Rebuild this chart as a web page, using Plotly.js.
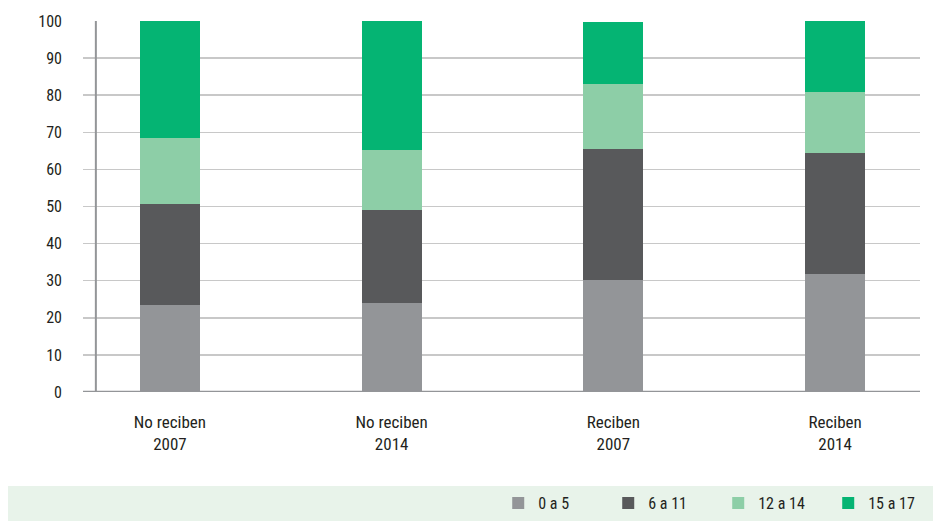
<!DOCTYPE html>
<html>
<head>
<meta charset="utf-8">
<script src="https://cdn.plot.ly/plotly-3.0.1.min.js"></script>
<style>
html,body{margin:0;padding:0;background:#fff;}
#chart{width:933px;height:522px;}
</style>
</head>
<body>
<div id="chart"></div>
<script>
const categories = ["No reciben<br>2007", "No reciben<br>2014", "Reciben<br>2007", "Reciben<br>2014"];
const seriesNames = ["0 a 5", "6 a 11", "12 a 14", "15 a 17"];
const age0to5 = [23.4, 24.0, 30.2, 31.8];
const age6to11 = [27.3, 25.1, 35.3, 32.6];
const age12to14 = [17.8, 16.1, 17.5, 16.5];
const age15to17 = [31.5, 34.8, 16.7, 19.1];
const yTicks = [0, 10, 20, 30, 40, 50, 60, 70, 80, 90, 100];

const colors = ["#939598", "#58595b", "#8dcea7", "#05b473"];
const values = [age0to5, age6to11, age12to14, age15to17];
const xIdx = categories.map((c, i) => i);

const FONT = "'Roboto Condensed', 'Liberation Sans Narrow', 'DejaVu Sans Condensed', 'Arial Narrow', sans-serif";

const traces = values.map((v, k) => ({
  type: "bar",
  name: seriesNames[k],
  x: xIdx,
  y: v,
  width: 0.271,
  marker: {color: colors[k], line: {width: 0}},
  hoverinfo: "y+name"
}));

const layout = {
  width: 933,
  height: 522,
  barmode: "stack",
  paper_bgcolor: "#ffffff",
  plot_bgcolor: "#ffffff",
  margin: {l: 83, r: 13, t: 21, b: 130},
  font: {family: FONT, size: 16, color: "#231f20"},
  xaxis: {
    range: [-0.392, 3.383],
    tickvals: xIdx,
    ticktext: categories,
    showgrid: false,
    zeroline: false,
    showline: false,
    ticks: "",
    ticklabelstandoff: 18,
    automargin: false,
    tickfont: {family: FONT, size: 17, color: "#231f20"},
    fixedrange: true
  },
  yaxis: {
    range: [0, 100],
    tickvals: yTicks,
    showgrid: true,
    gridcolor: "#c8c8c8",
    gridwidth: 1.5,
    zeroline: false,
    showline: false,
    ticks: "",
    ticklabelstandoff: 20,
    automargin: false,
    tickfont: {family: FONT, size: 16, color: "#231f20"},
    fixedrange: true
  },
  shapes: [
    {type: "rect", xref: "paper", yref: "paper", x0: -0.0896, x1: 1.0155, y0: -0.2534, y1: -0.3477,
     fillcolor: "#e8f3ea", line: {width: 0}, layer: "below"},
    {type: "line", xref: "x", yref: "paper", x0: -0.334, x1: -0.334, y0: 0, y1: 1,
     line: {color: "#939598", width: 2}, layer: "above"},
    {type: "line", xref: "paper", yref: "y", x0: 0, x1: 1, y0: 0, y1: 0,
     line: {color: "#939598", width: 2.5}, layer: "above"}
  ],
  legend: {
    orientation: "h",
    xref: "container",
    yref: "container",
    xanchor: "left",
    x: 0.534,
    yanchor: "middle",
    y: 0.036,
    bgcolor: "rgba(0,0,0,0)",
    traceorder: "normal",
    itemwidth: 30,
    entrywidth: 65,
    font: {family: FONT, size: 16, color: "#231f20"}
  },
  showlegend: true
};

Plotly.newPlot("chart", traces, layout, {displayModeBar: false, staticPlot: true});
</script>
</body>
</html>
